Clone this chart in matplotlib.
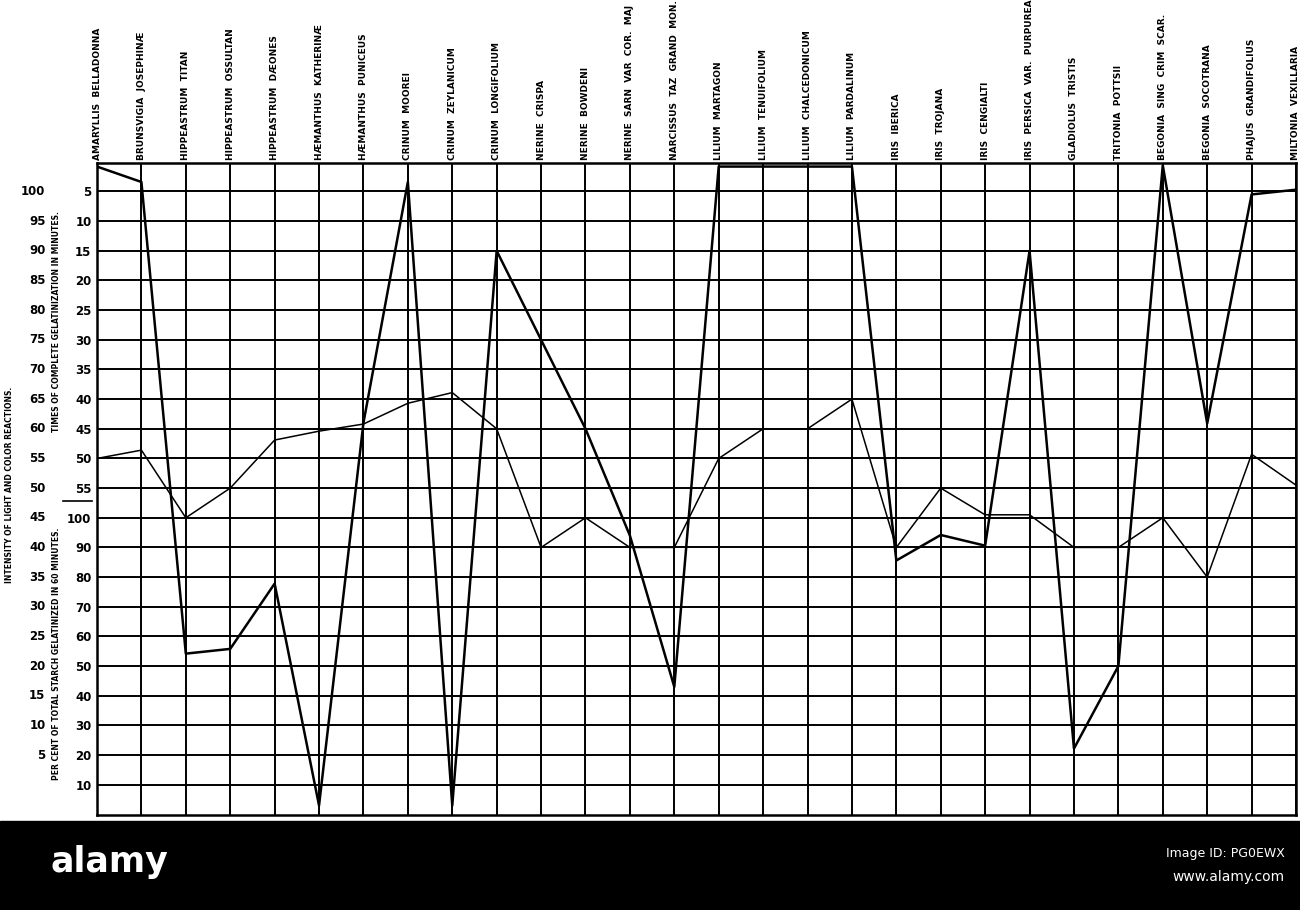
import numpy as np
import matplotlib
matplotlib.use("Agg")
import matplotlib.pyplot as plt
from matplotlib.patches import Rectangle

species = [
    "AMARYLLIS  BELLADONNA", "BRUNSVIGIA  JOSEPHINÆ", "HIPPEASTRUM  TITAN",
    "HIPPEASTRUM  OSSULTAN", "HIPPEASTRUM  DÆONES", "HÆMANTHUS  KATHERINÆ",
    "HÆMANTHUS  PUNICEUS", "CRINUM  MOOREI", "CRINUM  ZEYLANICUM",
    "CRINUM  LONGIFOLIUM", "NERINE  CRISPA", "NERINE  BOWDENI",
    "NERINE  SARN  VAR  COR.  MAJ", "NARCISSUS  TAZ  GRAND  MON.", "LILIUM  MARTAGON",
    "LILIUM  TENUIFOLIUM", "LILIUM  CHALCEDONICUM", "LILIUM  PARDALINUM",
    "IRIS  IBERICA", "IRIS  TROJANA", "IRIS  CENGIALTI",
    "IRIS  PERSICA  VAR.  PURPUREA", "GLADIOLUS  TRISTIS", "TRITONIA  POTTSII",
    "BEGONIA  SING  CRIM  SCAR.", "BEGONIA  SOCOTRANA", "PHAJUS  GRANDIFOLIUS",
    "MILTONIA  VEXILLARIA",
]

# heavy line: gelatinization (read in chart rows, upper half = minutes, lower = per cent)
gelatinization = [104.2, 101.6, 22.1, 22.9, 33.9, -3.5, 61.0, 101.6, -3.5,
                  90.0, 75.0, 60.0, 42.0, 16.5, 104.2, 104.2, 104.2, 104.2,
                  37.8, 42.1, 40.3, 90.0, 6.1, 20.0, 104.4, 60.9, 99.5, 100.3]

# light line: intensity of light and color reactions
intensity = [55.0, 56.4, 45.0, 50.0, 58.1, 59.6, 60.8, 64.3, 66.1,
             60.0, 40.0, 45.0, 40.0, 40.0, 55.0, 60.0, 60.0, 65.0,
             40.0, 50.0, 45.5, 45.5, 40.0, 40.0, 45.0, 35.0, 55.7, 50.5]

rows = np.arange(0, 101, 5)
intensity_labels = [str(r) if r > 0 else "" for r in rows]
inner_labels = [str(105 - r) if r >= 50 else str(10 + 2 * r) for r in rows]

fig = plt.figure(figsize=(13, 9.1), dpi=100)
ax = fig.add_axes([97 / 1300, (910 - 815) / 910, 1199 / 1300, 652 / 910])

x = np.arange(len(species))
ax.set_xlim(0, len(species) - 1)
ax.set_ylim(-5.1, 104.8)

ax.set_xticks(x)
ax.set_yticks(rows)
ax.grid(True, color="black", lw=1.4)
ax.set_axisbelow(True)
for s in ax.spines.values():
    s.set_linewidth(1.8)
    s.set_color("black")

ax.xaxis.tick_top()
ax.set_xticklabels(species, rotation=90, fontsize=6.5, fontweight="bold")
ax.tick_params(axis="x", length=0, pad=2)

ax.set_yticklabels(inner_labels, fontsize=8.5, fontweight="bold")
ax.tick_params(axis="y", length=0, pad=4)

ytrans = ax.get_yaxis_transform()
for r, lab in zip(rows, intensity_labels):
    ax.text(-0.043, r, lab, transform=ytrans, ha="right", va="center",
            fontsize=8.5, fontweight="bold")

# little dash between the two inner scales
ax.plot([-0.028, -0.004], [47.9, 47.9], transform=ytrans, color="black",
        lw=1.2, clip_on=False)

ax.plot(x, gelatinization, color="black", lw=1.8)
ax.plot(x, intensity, color="black", lw=1.1)

fig.text(10 / 1300, (910 - 485) / 910, "INTENSITY OF LIGHT AND COLOR REACTIONS.",
         rotation=90, ha="center", va="center", fontsize=5.5, fontweight="bold")
fig.text(57 / 1300, (910 - 322) / 910, "TIMES OF COMPLETE GELATINIZATION IN MINUTES.",
         rotation=90, ha="center", va="center", fontsize=5.5, fontweight="bold")
fig.text(57 / 1300, (910 - 654) / 910,
         "PER CENT OF TOTAL STARCH GELATINIZED IN 60 MINUTES.",
         rotation=90, ha="center", va="center", fontsize=5.5, fontweight="bold")

# black strip at the bottom of the scan
fig.patches.append(Rectangle((0, 0), 1, (910 - 821) / 910, transform=fig.transFigure,
                             color="black", zorder=0))
fig.text(50 / 1300, (910 - 862) / 910, "alamy", color="white", fontsize=25,
         fontweight="bold", ha="left", va="center")
fig.text(1285 / 1300, (910 - 853) / 910, "Image ID: PG0EWX", color="white",
         fontsize=9, ha="right", va="center")
fig.text(1285 / 1300, (910 - 877) / 910, "www.alamy.com", color="white",
         fontsize=10, ha="right", va="center")

fig.savefig("out.png", dpi=100)
